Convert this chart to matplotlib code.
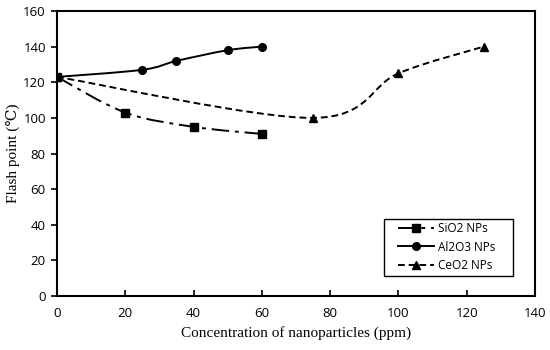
"""
Flash point vs nanoparticle concentration (SiO2, Al2O3, CeO2).
Excel-style smoothed lines with markers.
"""

import matplotlib.pyplot as plt
from matplotlib.path import Path
from matplotlib.patches import PathPatch, Rectangle
from matplotlib.lines import Line2D

# data
sio2_x = [0, 20, 40, 60]
sio2_y = [123, 103, 95, 91]

al2o3_x = [0, 25, 35, 50, 60]
al2o3_y = [123, 127, 132, 138, 140]

ceo2_x = [0, 75, 100, 125]
ceo2_y = [123, 100, 125, 140]

x_ticks = [0, 20, 40, 60, 80, 100, 120, 140]
y_ticks = [0, 20, 40, 60, 80, 100, 120, 140, 160]

tick_font = "Open Sans"
label_font = ["Liberation Serif", "DejaVu Serif"]


def smooth_path(ax, xs, ys):
    # Excel-like smoothing: cubic bezier segments through every point,
    # built in pixel space so the curve shape follows the rendered aspect
    pts = ax.transData.transform(list(zip(xs, ys)))
    n = len(pts)
    verts = [pts[0]]
    codes = [Path.MOVETO]
    for i in range(n - 1):
        p0 = pts[max(i - 1, 0)]
        p1 = pts[i]
        p2 = pts[i + 1]
        p3 = pts[min(i + 2, n - 1)]
        c1 = p1 + (p2 - p0) / 6.0
        c2 = p2 - (p3 - p1) / 6.0
        verts += [c1, c2, p2]
        codes += [Path.CURVE4] * 3
    inv = ax.transData.inverted()
    return Path(inv.transform(verts), codes)


fig = plt.figure(figsize=(5.5, 3.5), dpi=100)
ax = fig.add_axes([0.1036, 0.154, 0.869, 0.8146])
ax.set_xlim(0, 140)
ax.set_ylim(0, 160)

series = [
    (sio2_x, sio2_y, "s", (9, 3, 2, 3), "SiO2 NPs", 5),
    (al2o3_x, al2o3_y, "o", None, "Al2O3 NPs", 4),
    (ceo2_x, ceo2_y, "^", (3.5, 2), "CeO2 NPs", 3),
]

handles = []
for xs, ys, mk, dash, name, z in series:
    path = smooth_path(ax, xs, ys)
    ls = "-" if dash is None else (0, dash)
    ax.add_patch(PathPatch(path, fill=False, edgecolor="black", lw=1.4,
                           linestyle=ls, zorder=z))
    ax.plot(xs, ys, linestyle="none", marker=mk, color="black",
            markersize=5.5, zorder=z)
    handles.append(Line2D([], [], color="black", lw=1.4, linestyle=ls,
                          marker=mk, markersize=5.5, label=name))

ax.set_xticks(x_ticks)
ax.set_yticks(y_ticks)
ax.tick_params(axis="x", direction="in", length=4, width=1.2, pad=8)
ax.tick_params(axis="y", direction="out", length=4, width=1.2, pad=4)
for lab in ax.get_xticklabels() + ax.get_yticklabels():
    lab.set_fontfamily(tick_font)
    lab.set_fontsize(9.5)

for sp in ax.spines.values():
    sp.set_linewidth(1.5)

ax.set_xlabel("Concentration of nanoparticles (ppm)", family=label_font,
              fontsize=11, labelpad=4)
ax.set_ylabel("Flash point (\u2103)", family=label_font, fontsize=11,
              labelpad=2)

# legend box drawn separately: wide side padding, tight vertical padding
ax.add_patch(Rectangle((0.684, 0.070), 0.270, 0.200, transform=ax.transAxes,
                       fill=True, facecolor="white", edgecolor="black",
                       lw=1.0, zorder=6))
leg = ax.legend(handles=handles, loc="center",
                bbox_to_anchor=(0.815, 0.172), frameon=False,
                handlelength=3.1, handletextpad=0.3, borderpad=0.2,
                labelspacing=0.45, prop={"family": tick_font, "size": 8.5})
leg.set_zorder(7)

fig.savefig("out.png", dpi=100)
